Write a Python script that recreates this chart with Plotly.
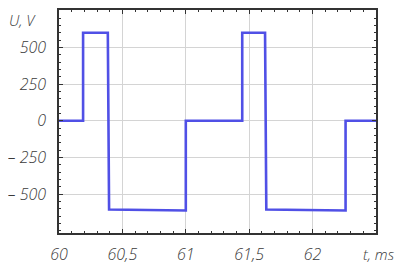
import plotly.graph_objects as go

# Data: stepwise voltage waveform
t_ms = [60.0, 60.19, 60.19, 60.385, 60.395, 61.0, 61.0, 61.445, 61.445, 61.625, 61.635, 62.26, 62.26, 62.5]
u_v = [0, 0, 600, 600, -605, -612, 0, 0, 600, 600, -605, -612, 0, 0]

x_tickvals = [60, 60.5, 61, 61.5, 62]
x_ticktext = ["60", "60,5", "61", "61,5", "62"]
y_tickvals = [-500, -250, 0, 250, 500]
y_ticktext = ["– 500", "– 250", "0", "250", "500"]

font = dict(family="Open Sans", size=16, color="#3a3a3a", style="italic", weight=300)
small_font = dict(family="Open Sans", size=15, color="#3a3a3a", style="italic", weight=300)

fig = go.Figure()
fig.add_trace(go.Scatter(
    x=t_ms, y=u_v, mode="lines",
    line=dict(color="#5050e6", width=2.6),
    hoverinfo="skip",
))

# page body has an 8px default margin, compensate
fig.update_layout(
    width=403, height=267,
    margin=dict(l=51, r=35, t=2, b=42, autoexpand=False),
    paper_bgcolor="white", plot_bgcolor="white",
    showlegend=False,
    font=font,
)
fig.update_xaxes(
    range=[60, 62.5],
    tickvals=x_tickvals, ticktext=x_ticktext,
    showgrid=True, gridcolor="#d4d4d4", gridwidth=1,
    showline=True, linecolor="#333", linewidth=1.5, mirror="allticks",
    ticks="inside", ticklen=4, tickcolor="#333",
    minor=dict(dtick=0.1, tick0=60, ticks="inside", ticklen=2.5, tickcolor="#333", showgrid=False),
    tickfont=font, zeroline=False, ticklabelstandoff=6,
)
fig.update_yaxes(
    range=[-765, 755],
    tickvals=y_tickvals, ticktext=y_ticktext,
    showgrid=True, gridcolor="#d4d4d4", gridwidth=1,
    showline=True, linecolor="#333", linewidth=1.5, mirror="allticks",
    ticks="inside", ticklen=4, tickcolor="#333",
    minor=dict(dtick=50, tick0=0, ticks="inside", ticklen=2.5, tickcolor="#333", showgrid=False),
    tickfont=font, zeroline=False, ticklabelstandoff=8,
)
fig.add_annotation(text="U, V", xref="paper", yref="paper", x=-0.066, y=1.009,
                   xanchor="right", yanchor="top", showarrow=False, font=small_font)
fig.add_annotation(text="t, ms", xref="paper", yref="paper", x=1.009, y=-0.094,
                   xanchor="center", yanchor="middle", showarrow=False, font=small_font)

fig.write_html("out.html")
